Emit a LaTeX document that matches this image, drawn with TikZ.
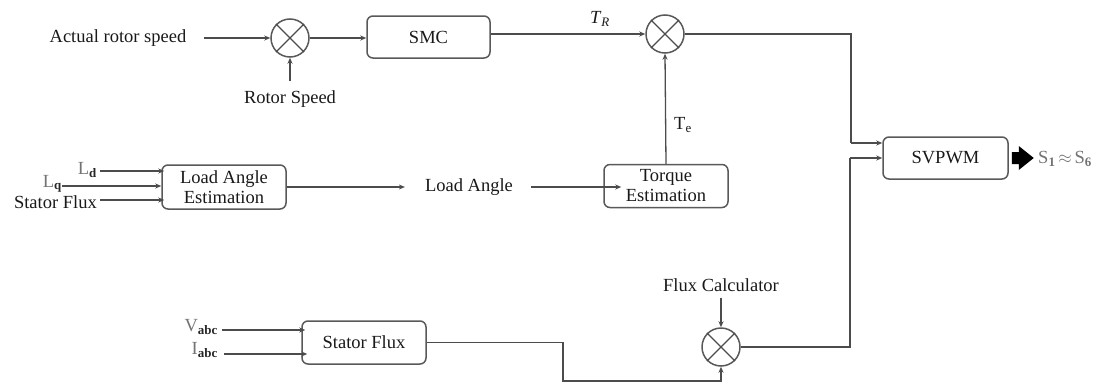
\documentclass[tikz,border=0pt]{standalone}
\usepackage{fontspec}
\setmainfont{Liberation Serif}
\newfontfamily\tnr{Liberation Serif}
\usetikzlibrary{arrows.meta}
\begin{document}
\begin{tikzpicture}[x=1pt,y=-1pt,
  every node/.style={font=\tnr\fontsize{18.5}{20}\selectfont, text=black!90},
  blk/.style={draw=black!65, line width=1.5pt, rounded corners=6pt, align=center, inner sep=1pt},
  sumc/.style={draw=black!65, line width=1.5pt, circle, minimum size=38pt, inner sep=0pt},
  wire/.style={draw=black!70, line width=1.3pt},
  arr/.style={wire, -{Stealth[length=6pt,width=5pt]}},
  lbl/.style={inner sep=0pt},
  sig/.style={inner sep=0pt, text=black!55}]
\useasboundingbox (0,0) rectangle (1098,383);

% top row
\node[lbl] (act) at (118,38) {Actual rotor speed};
\node[sumc] (c1) at (290,38) {};
\draw[wire] (c1.north west) -- (c1.south east) (c1.north east) -- (c1.south west);
\node[lbl] (rs) at (290,99) {Rotor Speed};
\node[blk, minimum width=123pt, minimum height=42pt] (smc) at (428.5,37) {SMC};
\node[sumc] (c2) at (665,34) {};
\draw[wire] (c2.north west) -- (c2.south east) (c2.north east) -- (c2.south west);
\node[lbl] (tr) at (600,19) {\textit{T}\textsubscript{\textit{R}}};

\draw[arr] ([xshift=17pt]act.east) -- (c1.west);
\draw[arr] ([yshift=9pt]rs.north) -- (c1.south);
\draw[arr] (c1.east) -- (c1.east -| smc.west);
\draw[arr] (smc.east |- c2.west) -- (c2.west);

% middle row
\node[blk, minimum width=124pt, minimum height=44pt] (lae) at (224,187) {Load Angle\\Estimation};
\node[sig, anchor=east] (ld) at (97,170) {L\textsubscript{\textbf{\textcolor{black!85}{d}}}};
\node[sig, anchor=east] (lq) at (62,184) {L\textsubscript{\textbf{\textcolor{black!85}{q}}}};
\node[lbl, anchor=east] (sf) at (97,202) {Stator Flux};
\draw[arr] ([xshift=3pt,yshift=-1pt]ld.east) -- ([xshift=3pt,yshift=-1pt]ld.east -| lae.west);
\draw[arr] ([yshift=-2pt]lq.east) -- ([yshift=-2pt]lq.east -| lae.west);
\draw[arr] ([xshift=3pt,yshift=2pt]sf.east) -- ([xshift=3pt,yshift=2pt]sf.east -| lae.west);

\node[lbl] (la) at (469,187) {Load Angle};
\node[blk, minimum width=124pt, minimum height=43pt] (te) at (666,186) {Torque\\Estimation};
\draw[arr] (lae.east) -- ([xshift=-20pt]lae.east -| la.west);
\draw[arr] ([xshift=18pt]la.east) -- ([xshift=18pt]la.east -| te.west);
\draw[arr] (te.north) -- (c2.south);
\node[lbl] (telbl) at (683,125) {T\textsubscript{e}};

% SVPWM
\node[blk, minimum width=125pt, minimum height=42pt] (sv) at (945.5,158) {SVPWM};
\coordinate (j1) at (851,143);
\coordinate (j2) at (850,158);
\draw[wire] (c2.east) -| (j1);
\draw[arr] (j1) -- (j1 -| sv.west);
\fill[black] ([xshift=3pt,yshift=6pt]sv.east) -- ++(7,0) -- ++(0,-6) -- ++(15,12) -- ++(-15,12) -- ++(0,-6) -- ++(-7,0) -- cycle;
\node[sig, anchor=west] (out) at (1038,159) {S\textsubscript{\textbf{1}}$\,\approx\,$S\textsubscript{\textbf{6}}};

% bottom row
\node[blk, minimum width=124pt, minimum height=43pt] (sfb) at (364,342.5) {Stator Flux};
\node[sig, anchor=east] (va) at (218,327) {V\textsubscript{\textbf{\textcolor{black!85}{abc}}}};
\node[sig, anchor=east] (ia) at (218,350) {I\textsubscript{\textbf{\textcolor{black!85}{abc}}}};
\draw[arr] ([xshift=4pt,yshift=-3pt]va.east) -- ([xshift=4pt,yshift=-3pt]va.east -| sfb.west);
\draw[arr] ([xshift=6pt,yshift=-4pt]ia.east) -- ([xshift=6pt,yshift=-4pt]ia.east -| sfb.west);

\node[lbl] (fc) at (721,285) {Flux Calculator};
\node[sumc] (c3) at (721,347) {};
\draw[wire] (c3.north west) -- (c3.south east) (c3.north east) -- (c3.south west);
\draw[arr] ([yshift=-6pt]fc.south) -- (c3.north);
\coordinate (k1) at (563,381);
\draw[arr] (sfb.east) -| (k1) -| (c3.south);
\draw[wire] (c3.east) -| (j2);
\draw[arr] (j2) -- (sv.west);
\end{tikzpicture}
\end{document}
